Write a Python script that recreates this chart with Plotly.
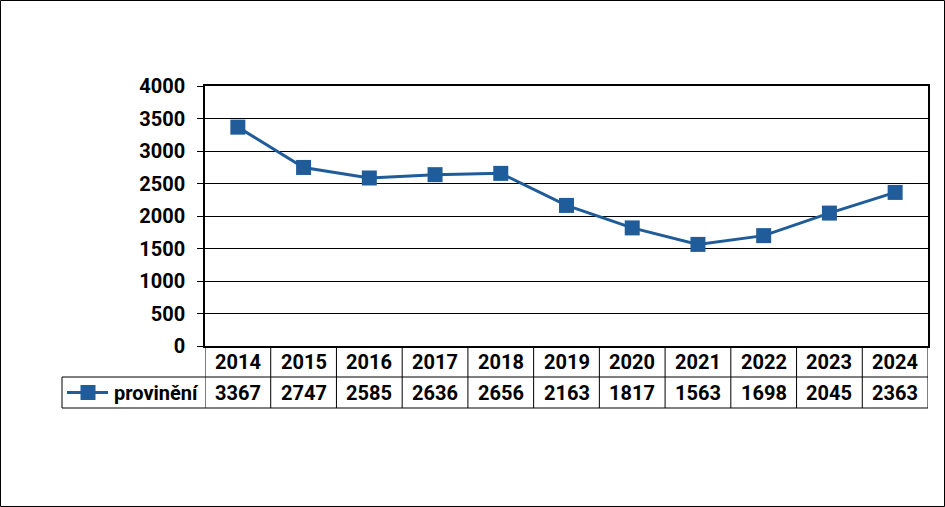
import plotly.graph_objects as go

years = ["2014", "2015", "2016", "2017", "2018", "2019", "2020", "2021", "2022", "2023", "2024"]
values = [3367, 2747, 2585, 2636, 2656, 2163, 1817, 1563, 1698, 2045, 2363]
series_name = "provinění"
y_ticks = [0, 500, 1000, 1500, 2000, 2500, 3000, 3500, 4000]

W, H = 945, 507
BLUE = "#1F5C99"
FONT = "Roboto"
FS = 20

def px(x):
    return x / W

def py(y):
    return 1 - y / H

plot_left, plot_right = 205, 928
plot_top, plot_bottom = 86, 346
row1_bottom, row2_bottom = 377, 408
legend_left = 62

fig = go.Figure()
xs = list(range(len(years)))
fig.add_trace(go.Scatter(
    x=xs, y=values, mode="lines+markers", name=series_name,
    line=dict(color=BLUE, width=3),
    marker=dict(symbol="square", size=15, color=BLUE),
    showlegend=False, cliponaxis=False,
))

shapes = []
annotations = []
# outer border
shapes.append(dict(type="rect", xref="paper", yref="paper", x0=px(0.5), x1=px(944.5),
                   y0=py(506.5), y1=py(0.5), line=dict(color="black", width=1)))
# table horizontal lines
for yy, x0 in [(row1_bottom, legend_left), (row2_bottom, legend_left)]:
    shapes.append(dict(type="line", xref="paper", yref="paper", x0=px(x0), x1=px(plot_right),
                       y0=py(yy), y1=py(yy), line=dict(color="black", width=1)))
# legend cell left edge
shapes.append(dict(type="line", xref="paper", yref="paper", x0=px(legend_left), x1=px(legend_left),
                   y0=py(row1_bottom), y1=py(row2_bottom), line=dict(color="black", width=1)))
# vertical column lines
for i in range(len(years) + 1):
    shapes.append(dict(type="line", xref="x", yref="paper", x0=i - 0.5, x1=i - 0.5,
                       y0=py(plot_bottom), y1=py(row2_bottom), line=dict(color="black", width=1)))
# legend key
ky = (row1_bottom + row2_bottom) / 2
shapes.append(dict(type="line", xref="paper", yref="paper", x0=px(67), x1=px(108),
                   y0=py(ky), y1=py(ky), line=dict(color=BLUE, width=3)))
shapes.append(dict(type="rect", xref="paper", yref="paper", x0=px(80.5), x1=px(95.5),
                   y0=py(ky + 7.5), y1=py(ky - 7.5), line=dict(width=0), fillcolor=BLUE))
annotations.append(dict(xref="paper", yref="paper", x=px(201), y=py(ky), text=series_name,
                        showarrow=False, xanchor="right", yanchor="middle",
                        font=dict(family=FONT, size=FS, color="black", weight="bold")))
for i, (yr, v) in enumerate(zip(years, values)):
    annotations.append(dict(xref="x", yref="paper", x=i, y=py((plot_bottom + row1_bottom) / 2),
                            text=yr, showarrow=False, xanchor="center", yanchor="middle",
                            font=dict(family=FONT, size=FS, color="black", weight="bold")))
    annotations.append(dict(xref="x", yref="paper", x=i, y=py(ky),
                            text=str(v), showarrow=False, xanchor="center", yanchor="middle",
                            font=dict(family=FONT, size=FS, color="black", weight="bold")))

fig.update_layout(
    template="none",
    width=W, height=H, margin=dict(l=0, r=0, t=0, b=0, pad=0),
    autosize=False,
    paper_bgcolor="white", plot_bgcolor="white",
    shapes=shapes, annotations=annotations,
    xaxis=dict(domain=[px(plot_left), px(plot_right)], range=[-0.5, len(years) - 0.5],
               showticklabels=False, showgrid=False, zeroline=False, automargin=False,
               showline=True, mirror=True, linecolor="black", linewidth=1.5, ticks=""),
    yaxis=dict(domain=[py(plot_bottom), py(plot_top)], range=[0, 4000], automargin=False,
               tickvals=y_ticks, ticktext=[str(t) for t in y_ticks],
               showgrid=True, gridcolor="black", gridwidth=1, zeroline=False,
               showline=True, mirror=True, linecolor="black", linewidth=1.5,
               ticks="outside", ticklen=6, tickcolor="black", tickwidth=1,
               ticklabelstandoff=8,
               tickfont=dict(family=FONT, size=FS, color="black", weight="bold")),
)

fig.write_html(
    "out.html",
    config={"displayModeBar": False},
    post_script="document.documentElement.style.margin='0';document.body.style.margin='0';document.body.style.overflow='hidden';",
)
